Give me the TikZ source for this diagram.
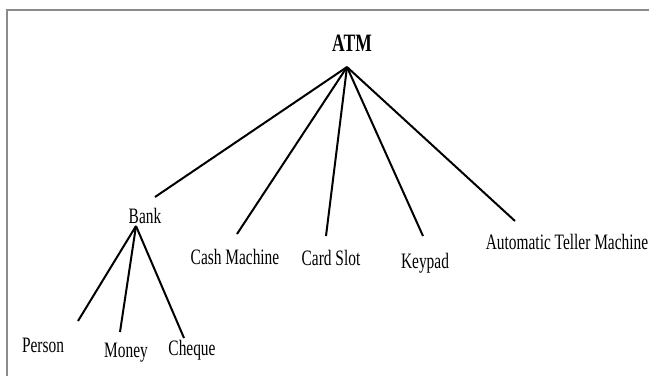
\documentclass[tikz,border=0pt]{standalone}
\usepackage{fontspec}
\setmainfont{Liberation Serif}[FakeStretch=0.70]
\begin{document}
\begin{tikzpicture}[x=1pt,y=-1pt,
  lbl/.style={anchor=base,inner sep=0pt,font=\fontsize{22}{26}\selectfont},
  edge/.style={line width=2pt,black},
  frame/.style={line width=2pt,gray!90}]
\useasboundingbox (0,0) rectangle (649,376);
\fill[white] (0,0) rectangle (649,376);
\draw[frame] (7,376) -- (7,10) -- (649,10);
% labels
\node[lbl,font=\fontsize{25}{29}\selectfont\bfseries] (atm) at (352,51) {ATM};
\node[lbl] (bank) at (145,223) {Bank};
\node[lbl] (cash) at (235,264) {Cash Machine};
\node[lbl] (card) at (331,265) {Card Slot};
\node[lbl] (key) at (425,268) {Keypad};
\node[lbl] (atmlong) at (567,249) {Automatic Teller Machine};
\node[lbl] (person) at (43,352) {Person};
\node[lbl] (money) at (126,357) {Money};
\node[lbl] (cheque) at (192,355) {Cheque};
% connector end points
\coordinate (apex) at (347,67);
\coordinate (eBank) at (155,197);
\coordinate (eCash) at (237,234);
\coordinate (eCard) at (326,236);
\coordinate (eKey) at (423,236);
\coordinate (eLong) at (515,221);
\coordinate (bapex) at (136,226);
\coordinate (ePerson) at (78,321);
\coordinate (eMoney) at (120,332);
\coordinate (eCheque) at (184,338);
\draw[edge] (apex) -- (eBank);
\draw[edge] (apex) -- (eCash);
\draw[edge] (apex) -- (eCard);
\draw[edge] (apex) -- (eKey);
\draw[edge] (apex) -- (eLong);
\draw[edge] (bapex) -- (ePerson);
\draw[edge] (bapex) -- (eMoney);
\draw[edge] (bapex) -- (eCheque);
\end{tikzpicture}
\end{document}
